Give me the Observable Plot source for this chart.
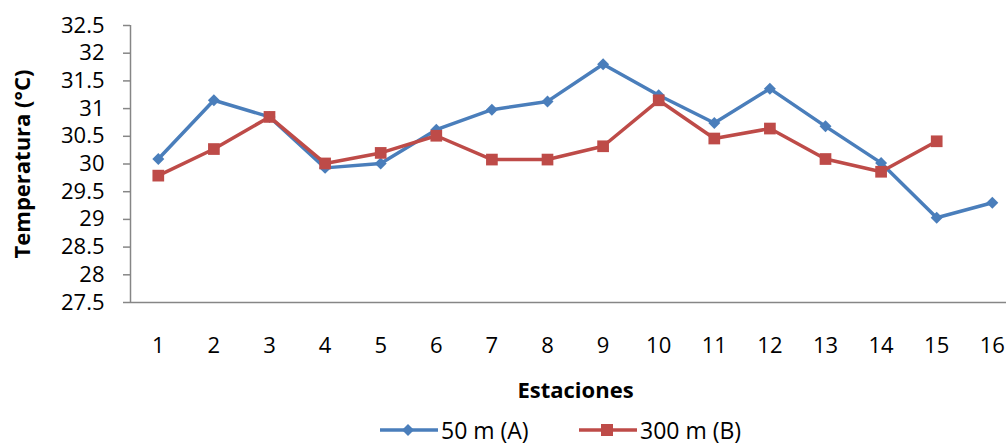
<!DOCTYPE html>
<html>
<head>
<meta charset="utf-8">
<script src="https://cdn.jsdelivr.net/npm/d3@7"></script>
<script src="https://cdn.jsdelivr.net/npm/@observablehq/plot@0.6"></script>
<style>
  html, body { margin: 0; padding: 0; background: #fff; }
  #wrap { position: relative; width: 1006px; height: 446px; overflow: hidden; }
  #legend { position: absolute; left: 0; top: 414px; width: 1006px; height: 32px;
    font-family: "Open Sans", sans-serif; font-size: 23px; color: #000; }
  .item { position: absolute; top: 0; height: 32px; display: flex; align-items: center; }
  .item svg { display: block; margin-right: 3px; }
</style>
</head>
<body>
<div id="wrap"></div>
<script>
const estaciones = [1, 2, 3, 4, 5, 6, 7, 8, 9, 10, 11, 12, 13, 14, 15, 16];
const serieA = [30.09, 31.15, 30.85, 29.93, 30.01, 30.62, 30.98, 31.13, 31.8, 31.24, 30.74, 31.36, 30.68, 30.02, 29.03, 29.3];
const serieB = [29.79, 30.27, 30.85, 30.01, 30.2, 30.51, 30.08, 30.08, 30.32, 31.15, 30.46, 30.64, 30.09, 29.86, 30.41];
const yTicks = [27.5, 28, 28.5, 29, 29.5, 30, 30.5, 31, 31.5, 32, 32.5];
const nombreA = "50 m (A)";
const nombreB = "300 m (B)";
const colorA = "#4A7EBB";
const colorB = "#BE4B48";

const dataA = serieA.map((v, i) => ({x: estaciones[i], y: v}));
const dataB = serieB.map((v, i) => ({x: estaciones[i], y: v}));

const chart = Plot.plot({
  width: 1006,
  height: 414,
  marginTop: 25,
  marginBottom: 112,
  marginLeft: 130,
  marginRight: 0,
  x: {domain: [0.5, 16.5], range: [130, 1019.6]},
  y: {domain: [27.5, 32.5]},
  style: {fontFamily: "'Open Sans', sans-serif", fontSize: "22px", color: "#000", background: "white"},
  marks: [
    Plot.ruleY([27.5], {stroke: "#868686", strokeWidth: 1.5}),
    Plot.ruleX([0.5], {stroke: "#868686", strokeWidth: 1.5}),
    Plot.axisY({ticks: yTicks, tickSize: 7, tickPadding: 19, stroke: "#868686", strokeWidth: 1.5, label: null, tickFormat: d => String(d), fill: "#000"}),
    Plot.axisX({ticks: estaciones, tickSize: 0, tickPadding: 35, label: null, tickFormat: d => String(d), fill: "#000"}),
    Plot.line(dataA, {x: "x", y: "y", stroke: colorA, strokeWidth: 3.5}),
    Plot.dot(dataA, {x: "x", y: "y", symbol: "diamond2", r: 5.4, fill: colorA, stroke: null}),
    Plot.line(dataB, {x: "x", y: "y", stroke: colorB, strokeWidth: 3.5}),
    Plot.dot(dataB, {x: "x", y: "y", symbol: "square", r: 6.6, fill: colorB, stroke: null}),
    Plot.text(["Estaciones"], {frameAnchor: "bottom", textAnchor: "middle", dx: 7, dy: 95, fontWeight: "bold", fontSize: 22, fill: "#000"}),
    Plot.text(["Temperatura (°C)"], {frameAnchor: "left", textAnchor: "middle", dx: -108, rotate: -90, fontWeight: "bold", fontSize: 22, fill: "#000"})
  ]
});
const wrap = document.getElementById("wrap");
wrap.appendChild(chart);

const legend = document.createElement("div");
legend.id = "legend";
legend.innerHTML = `
  <div class="item" style="left:380px">
    <svg width="58" height="16"><line x1="0" y1="8" x2="58" y2="8" stroke="${colorA}" stroke-width="3.5"/>
      <path d="M28,2 L34,8 L28,14 L22,8 Z" fill="${colorA}"/></svg>
    <span>${nombreA}</span>
  </div>
  <div class="item" style="left:579px">
    <svg width="58" height="16"><line x1="0" y1="8" x2="58" y2="8" stroke="${colorB}" stroke-width="3.5"/>
      <rect x="22" y="2" width="12" height="12" fill="${colorB}"/></svg>
    <span>${nombreB}</span>
  </div>`;
wrap.appendChild(legend);
</script>
</body>
</html>
